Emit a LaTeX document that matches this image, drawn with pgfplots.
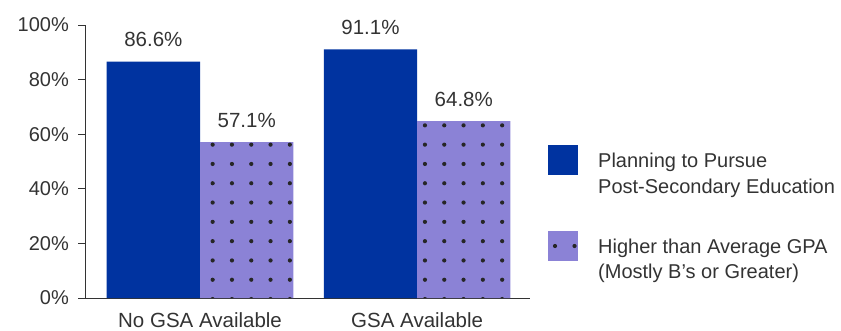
\documentclass[border=0pt]{standalone}
\usepackage{pgfplots}
\pgfplotsset{compat=1.18}
\usepackage{fontspec}
\setmainfont{Liberation Sans}
\usetikzlibrary{patterns.meta}
\definecolor{gsablue}{RGB}{0,51,160}
\definecolor{gsalav}{RGB}{139,130,214}
\definecolor{txt}{RGB}{51,51,51}
\tikzdeclarepattern{
  name=gsadots,
  type=uncolored,
  bottom left={(-2.5pt,-2.5pt)},
  top right={(16.8pt,16.8pt)},
  tile size={(19.3pt,19.3pt)},
  code={\fill (0.35pt,11.65pt) circle (2.1pt);}
}
\newcommand{\fs}{\fontsize{20}{23}\selectfont}
\newcommand{\fl}{\fontsize{20.5}{24}\selectfont}
\begin{document}
\begin{tikzpicture}[font=\fs\color{txt}]
\useasboundingbox (-85pt,-32pt) rectangle (756pt,298pt);
\begin{axis}[
  at={(0,0)}, anchor=south west,
  scale only axis, width=445pt, height=273pt,
  xmin=-0.53, xmax=1.52, ymin=0, ymax=100,
  axis lines*=left,
  axis line style={draw=txt, line width=0.8pt},
  ybar, bar width=0.43, 
  xtick={0,1}, xticklabels={No GSA Available, GSA Available},
  xtick style={draw=none},
  ytick={0,20,40,60,80,100},
  tick align=outside, major tick length=6.5pt,
  ytick style={draw=txt, line width=0.8pt},
  yticklabel={\pgfmathprintnumber{\tick}\%},
  /pgf/number format/assume math mode=true,
  yticklabel style={font=\fontsize{20}{23}\selectfont, text=txt, anchor=east, inner sep=0pt, xshift=-9.5pt},
  xticklabel style={font=\fl, text=txt, anchor=base, inner sep=0pt, yshift=-22.5pt},
  nodes near coords={\pgfmathprintnumber[fixed,precision=1,fixed zerofill]{\pgfplotspointmeta}\%},
  nodes near coords style={font=\fl, text=txt, anchor=base, inner sep=0pt, yshift=15pt},
  clip=false,
]
\addplot[draw=none, fill=gsablue, bar shift=-0.215] coordinates {(0,86.6) (1,91.1)};
\addplot[draw=none, fill=gsalav, bar shift=0.215, postaction={pattern=gsadots, pattern color=black!85}] coordinates {(0,57.1) (1,64.8)};
\end{axis}
% legend
\fill[gsablue] (463pt,123pt) rectangle (493pt,153pt);
\fill[gsalav] (463pt,37pt) rectangle (493pt,67pt);
\fill[black!85] (470pt,52pt) circle (2.1pt);
\fill[black!85] (489.5pt,52pt) circle (2.1pt);
\node[anchor=base west, inner sep=0pt] at (513pt,130.3pt) {Planning to Pursue};
\node[anchor=base west, inner sep=0pt] at (513pt,104.7pt) {Post-Secondary Education};
\node[anchor=base west, inner sep=0pt] at (513pt,45pt) {Higher than Average GPA};
\node[anchor=base west, inner sep=0pt] at (513pt,20pt) {(Mostly B’s or Greater)};
\end{tikzpicture}
\end{document}
